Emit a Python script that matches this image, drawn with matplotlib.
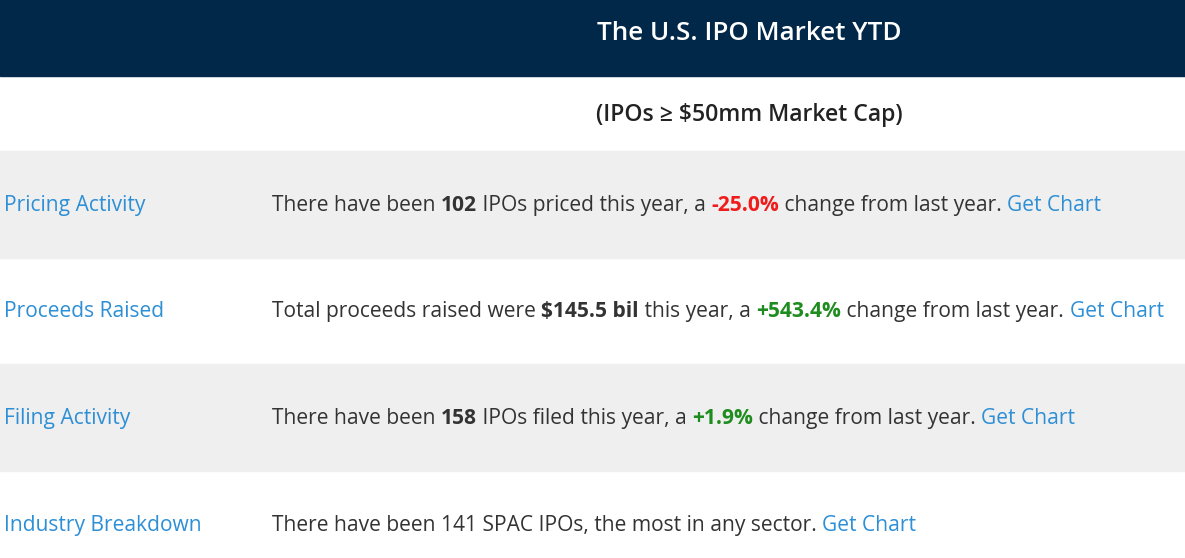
import matplotlib
matplotlib.use("Agg")
import matplotlib.pyplot as plt
from matplotlib.patches import Rectangle

plt.rcParams['font.family'] = ['Open Sans', 'DejaVu Sans']

title = "The U.S. IPO Market YTD"
subtitle = "(IPOs \u2265 $50mm Market Cap)"
labels = ["Pricing Activity", "Proceeds Raised", "Filing Activity", "Industry Breakdown"]
# each row: (text, style) with style n=normal, b=bold, r=red bold, g=green bold, l=link
rows = [
    [("There have been ", "n"), ("102", "b"), (" IPOs priced this year, a ", "n"),
     ("-25.0%", "r"), (" change from last year. ", "n"), ("Get Chart", "l")],
    [("Total proceeds raised were ", "n"), ("$145.5 bil", "b"), (" this year, a ", "n"),
     ("+543.4%", "g"), (" change from last year. ", "n"), ("Get Chart", "l")],
    [("There have been ", "n"), ("158", "b"), (" IPOs filed this year, a ", "n"),
     ("+1.9%", "g"), (" change from last year. ", "n"), ("Get Chart", "l")],
    [("There have been 141 SPAC IPOs, the most in any sector. ", "n"), ("Get Chart", "l")],
]

navy = "#012849"
link = "#2d8fd5"
styles = {
    "n": dict(color="#333333", fontweight="normal"),
    "b": dict(color="#333333", fontweight="bold"),
    "r": dict(color="#f01c1c", fontweight="bold"),
    "g": dict(color="#1e8c1e", fontweight="bold"),
    "l": dict(color=link, fontweight="normal"),
}

W, H = 1185, 558
fig = plt.figure(figsize=(W / 100, H / 100), dpi=100)
ax = fig.add_axes([0, 0, 1, 1])
ax.set_xlim(0, W)
ax.set_ylim(H, 0)
ax.axis("off")

ax.add_patch(Rectangle((0, 0), W, 76, color=navy))
ax.text(749, 33, title, color="white", fontsize=18.7, fontweight="semibold", ha="center", va="center")
ax.text(749, 115, subtitle, color="#222222", fontsize=16.6, fontweight="semibold", ha="center", va="center")

row_top = [151, 257, 364, 471]
row_h = 107
fs = 15.1
for i, (lab, segs) in enumerate(zip(labels, rows)):
    if i % 2 == 0:
        ax.add_patch(Rectangle((0, row_top[i]), W, row_h, color="#efefef"))
    yb = row_top[i] + 60
    ax.annotate(lab, (4, yb), color=link, fontsize=fs, va="baseline", ha="left")
    prev = None
    for txt, st in segs:
        if prev is None:
            prev = ax.annotate(txt, (272, yb), va="baseline", ha="left", fontsize=fs, **styles[st])
        else:
            prev = ax.annotate(txt, xy=(1, 0), xycoords=prev, va="bottom", ha="left",
                               fontsize=fs, **styles[st])

fig.savefig("out.png", dpi=100)
